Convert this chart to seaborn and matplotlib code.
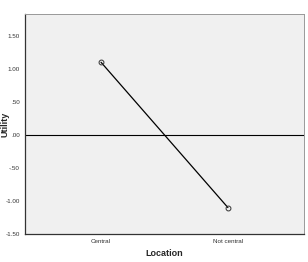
import matplotlib
matplotlib.use("Agg")
import matplotlib.pyplot as plt
import seaborn as sns
import pandas as pd

categories = ["Central", "Not central"]
utility = [1.10, -1.10]
ytick_vals = [-1.5, -1.0, -0.5, 0.0, 0.5, 1.0, 1.5]
ytick_labels = ["-1.50", "-1.00", "-.50", ".00", ".50", "1.00", "1.50"]

df = pd.DataFrame({"Location": categories, "Utility": utility})

sns.set_style("white")
plt.rcParams['font.family'] = ['Liberation Sans', 'DejaVu Sans']

fig = plt.figure(figsize=(3.08, 2.62), dpi=100)
ax = fig.add_axes([0.081, 0.107, 0.906, 0.840])
ax.set_facecolor("#F0F0F0")

sns.lineplot(data=df, x="Location", y="Utility", ax=ax, color="black",
             linewidth=0.9, marker="o", markersize=3.5,
             markerfacecolor="none", markeredgecolor="#333333", markeredgewidth=0.7)
ax.axhline(0, color="black", linewidth=0.8, zorder=0)

ax.set_xlim(-0.6, 1.6)
ax.set_ylim(-1.5, 1.833)
ax.set_yticks(ytick_vals)
ax.set_yticklabels(ytick_labels)
ax.tick_params(axis="both", labelsize=4.5, length=2.5, width=0.6, pad=1, colors="#333333")
ax.set_xlabel("Location", fontsize=6.5, fontweight="bold", labelpad=4)
ax.set_ylabel("Utility", fontsize=6.5, fontweight="bold")
ax.yaxis.set_label_coords(-0.055, 0.5)

for s in ["left", "bottom"]:
    ax.spines[s].set_color("#333333")
    ax.spines[s].set_linewidth(0.9)
for s in ["top", "right"]:
    ax.spines[s].set_color("#999999")
    ax.spines[s].set_linewidth(0.7)

fig.savefig("out.png", dpi=100, facecolor="white")
